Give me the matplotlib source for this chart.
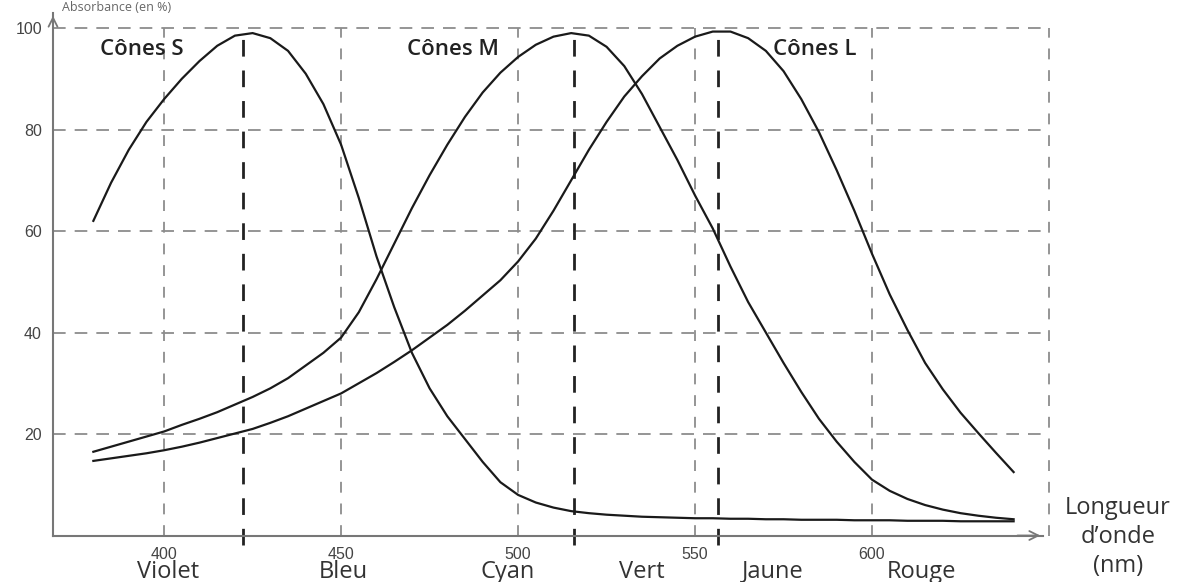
import matplotlib.pyplot as plt

# wavelengths (nm) and relative absorbance (%)
wavelengths = [380, 385, 390, 395, 400, 405, 410, 415, 420, 425, 430, 435, 440, 445,
               450, 455, 460, 465, 470, 475, 480, 485, 490, 495, 500, 505, 510, 515,
               520, 525, 530, 535, 540, 545, 550, 555, 560, 565, 570, 575, 580, 585,
               590, 595, 600, 605, 610, 615, 620, 625, 630, 635, 640]

cones_s = [62, 69.5, 76, 81.5, 86, 90, 93.5, 96.5, 98.5, 99, 98, 95.5, 91, 85,
           77, 66.5, 55, 45, 36, 29, 23.5, 19, 14.5, 10.5, 8, 6.5, 5.5, 4.8,
           4.4, 4.1, 3.9, 3.7, 3.6, 3.5, 3.4, 3.4, 3.3, 3.3, 3.2, 3.2, 3.1, 3.1,
           3.1, 3.0, 3.0, 3.0, 2.9, 2.9, 2.9, 2.8, 2.8, 2.8, 2.8]

cones_m = [16.5, 17.5, 18.5, 19.5, 20.5, 21.8, 23, 24.3, 25.8, 27.3, 29, 31, 33.5, 36,
           39, 44, 50.5, 57.5, 64.5, 71, 77, 82.5, 87.3, 91.2, 94.3, 96.7, 98.3, 99,
           98.5, 96.3, 92.5, 87, 80.5, 74, 67, 60.5, 53, 46, 40, 34, 28.3, 23,
           18.5, 14.5, 11, 8.8, 7.2, 6, 5.1, 4.4, 3.9, 3.5, 3.2]

cones_l = [14.7, 15.2, 15.7, 16.2, 16.8, 17.5, 18.3, 19.2, 20.1, 21, 22.2, 23.5, 25, 26.5,
           28, 30, 32, 34.2, 36.5, 39, 41.5, 44.3, 47.3, 50.3, 54, 58.5, 64, 70,
           76, 81.5, 86.5, 90.5, 94, 96.5, 98.3, 99.3, 99.3, 98, 95.5, 91.5, 86, 79.5,
           72, 64, 55.5, 47.5, 40.5, 34, 28.8, 24.2, 20.2, 16.3, 12.5]

peak_nm = [422.3, 515.8, 556.5]
peak_val = 98.5

cone_names = ["Cônes S", "Cônes M", "Cônes L"]
cone_label_x = [382, 468.5, 572]
cone_label_y = 95.8

grid_x = [400, 450, 500, 550, 600, 650]
grid_y = [20, 40, 60, 80, 100]
xtick_vals = [400, 450, 500, 550, 600]

colour_names = ["Violet", "Bleu", "Cyan", "Vert", "Jaune", "Rouge"]
colour_x = [401, 450.5, 497, 535, 572, 614]

W, H = 1184, 582
fig = plt.figure(figsize=(W / 100, H / 100), dpi=100)
ax = fig.add_axes([53 / W, (H - 535.5) / H, (1043 - 53) / W, (535.5 - 13) / H])
x0, x1 = 368.6, 648.3
ax.set_xlim(x0, x1)
ax.set_ylim(0, 102.96)

grey = "#8c8c8c"
for v in grid_y:
    ax.plot([x0, 650], [v, v], color=grey, lw=1.3, dashes=(7, 5), clip_on=False, zorder=1)
for w in grid_x:
    ax.plot([w, w], [0, 100], color=grey, lw=1.3, dashes=(6, 6), clip_on=False, zorder=1)

# peak markers, run a little below the axis
for p in peak_nm:
    ax.plot([p, p], [-1.8, peak_val], color="#222222", lw=2.0, dashes=(6, 5),
            clip_on=False, zorder=2)

for ys in (cones_s, cones_m, cones_l):
    ax.plot(wavelengths, ys, color="#1a1a1a", lw=1.6, zorder=3)

for name, lx in zip(cone_names, cone_label_x):
    ax.text(lx, cone_label_y, name, fontsize=16, fontfamily="Open Sans",
            fontweight="semibold", color="#222222", va="center", ha="left")

# axes
for side in ("top", "right"):
    ax.spines[side].set_visible(False)
for side in ("left", "bottom"):
    ax.spines[side].set_color("#777777")
    ax.spines[side].set_linewidth(1.5)
ax.annotate("", xy=(x1, 0), xytext=(x1 - 8, 0),
            arrowprops=dict(arrowstyle="->", color="#777777", lw=1.3, mutation_scale=16),
            annotation_clip=False)
ax.annotate("", xy=(x0, 102.96), xytext=(x0, 98),
            arrowprops=dict(arrowstyle="->", color="#777777", lw=1.3, mutation_scale=16),
            annotation_clip=False)

ax.set_xticks(xtick_vals)
ax.set_xticklabels([str(v) for v in xtick_vals])
ax.set_yticks(grid_y)
ax.set_yticklabels([str(v) for v in grid_y])
ax.tick_params(axis="x", length=0, pad=8, labelsize=11.5, labelcolor="#444444")
ax.tick_params(axis="y", length=0, pad=8, labelsize=11.5, labelcolor="#444444")
for lab in ax.get_xticklabels() + ax.get_yticklabels():
    lab.set_fontfamily("Liberation Sans")

for name, cx in zip(colour_names, colour_x):
    ax.text(cx, -4.8, name, ha="center", va="top", fontsize=17, fontfamily="Open Sans",
            color="#333333", clip_on=False)

ax.text(669.5, -0.3, "Longueur\nd’onde\n(nm)", ha="center", va="center", fontsize=17,
        fontfamily="Open Sans", color="#333333", linespacing=1.3, clip_on=False)

fig.text(62 / W, (H - 1) / H, "Absorbance (en %)", ha="left", va="top",
         fontsize=9, fontfamily="Open Sans", color="#666666")

fig.savefig("out.png", dpi=100)
